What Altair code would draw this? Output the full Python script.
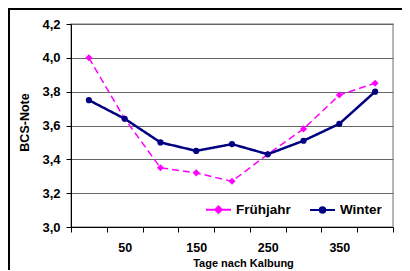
import altair as alt
import pandas as pd

tage = ["0", "50", "100", "150", "200", "250", "300", "350", "400"]
fruehjahr = [4.00, 3.64, 3.35, 3.32, 3.27, 3.43, 3.58, 3.78, 3.85]
winter = [3.75, 3.64, 3.50, 3.45, 3.49, 3.43, 3.51, 3.61, 3.80]
series_names = ["Frühjahr", "Winter"]
series_colors = ["#FF00FF", "#000080"]
x_labels_shown = ["50", "150", "250", "350"]
y_ticks = [3.0, 3.2, 3.4, 3.6, 3.8, 4.0, 4.2]

rows = []
for t, v in zip(tage, fruehjahr):
    rows.append({"Tage": t, "BCS": v, "Serie": "Frühjahr"})
for t, v in zip(tage, winter):
    rows.append({"Tage": t, "BCS": v, "Serie": "Winter"})
df = pd.DataFrame(rows)

FONT = "Liberation Sans"

x_enc = alt.X(
    "Tage:N", sort=tage,
    scale=alt.Scale(paddingInner=0, paddingOuter=0),
    axis=alt.Axis(
        title="Tage nach Kalbung", titleFont=FONT, titleFontSize=11, titleFontWeight="bold",
        titleColor="black", titleX=172, titleY=30, titleAlign="center", titleBaseline="top",
        labelFont=FONT, labelFontSize=12.5, labelFontWeight="bold", labelColor="black",
        labelAngle=0, labelPadding=9,
        labelExpr="indexof(" + str(x_labels_shown) + ", datum.label) >= 0 ? datum.label : ''",
        tickBand="extent", tickColor="black", tickSize=5, domainColor="black", grid=False,
    ),
)
y_enc = alt.Y(
    "BCS:Q",
    scale=alt.Scale(domain=[3.0, 4.2], nice=False, zero=False),
    axis=alt.Axis(
        title="BCS-Note", titleFont=FONT, titleFontSize=12.5, titleFontWeight="bold",
        titleColor="black", titleX=-47, titleY=98, titleAlign="center", titleBaseline="middle",
        titleAngle=270,
        values=y_ticks, labelOverlap=False,
        labelExpr="replace(format(datum.value, '.1f'), '.', ',')",
        labelFont=FONT, labelFontSize=13, labelFontWeight="bold", labelColor="black",
        labelPadding=6, tickColor="black", tickSize=5, domainColor="black",
        grid=True, gridColor="#666666", gridWidth=1,
    ),
)

color_scale = alt.Scale(domain=series_names, range=series_colors)

lines = alt.Chart(df).mark_line().encode(
    x=x_enc, y=y_enc,
    color=alt.Color("Serie:N", scale=color_scale, legend=None),
    strokeDash=alt.StrokeDash("Serie:N", scale=alt.Scale(domain=series_names, range=[[7, 4], [1, 0]]), legend=None),
    strokeWidth=alt.StrokeWidth("Serie:N", scale=alt.Scale(domain=series_names, range=[1.5, 2.5]), legend=None),
)

points = alt.Chart(df).mark_point(filled=True, opacity=1).encode(
    x=x_enc, y=y_enc,
    color=alt.Color("Serie:N", scale=color_scale, legend=None),
    shape=alt.Shape("Serie:N", scale=alt.Scale(domain=series_names, range=["diamond", "circle"]), legend=None),
    size=alt.Size("Serie:N", scale=alt.Scale(domain=series_names, range=[50, 38]), legend=None),
)

diamond_path = "M-1,0H1M-0.26,0L0,-0.26L0.26,0L0,0.26Z"
circle_path = "M-1,0H1M-0.22,0A0.22,0.22 0 1,0 0.22,0A0.22,0.22 0 1,0 -0.22,0Z"

legend_layer = alt.Chart(df).transform_filter("false").mark_point(filled=False, opacity=1).encode(
    x=x_enc, y=y_enc,
    color=alt.Color(
        "Serie:N", scale=alt.Scale(domain=series_names, range=series_colors),
        legend=alt.Legend(
            title=None, orient="none", legendX=134, legendY=172, direction="horizontal",
            labelFont=FONT, labelFontSize=13.5, labelFontWeight="bold", labelColor="black",
            symbolSize=625, symbolStrokeWidth=2, labelOffset=4, columnPadding=15, padding=0,
        ),
    ),
    fill=alt.Fill("Serie:N", scale=alt.Scale(domain=series_names, range=series_colors), legend=alt.Legend(title=None)),
    shape=alt.Shape("Serie:N", scale=alt.Scale(domain=series_names, range=[diamond_path, circle_path]), legend=alt.Legend(title=None)),
)

frame_top = alt.Chart(df).mark_rule(color="black", strokeWidth=1.5).encode(
    x=alt.value(-63), x2=alt.value(340), y=alt.value(-15)
)
frame_left = alt.Chart(df).mark_rule(color="black", strokeWidth=1.5).encode(
    x=alt.value(-62.5), y=alt.value(-15), y2=alt.value(250)
)

chart = alt.layer(lines, points, legend_layer, frame_top, frame_left).resolve_scale(
    color="independent", shape="independent", fill="independent", size="independent",
    strokeDash="independent", strokeWidth="independent",
).properties(
    width=322, height=203,
    autosize=alt.AutoSizeParams(type="none"),
    padding={"left": 63, "top": 16, "right": 9, "bottom": 43},
    background="white",
).configure_view(stroke="#a0a0a0", strokeWidth=1.5)

chart.save("out.html", embed_options={"renderer": "svg", "actions": False})
